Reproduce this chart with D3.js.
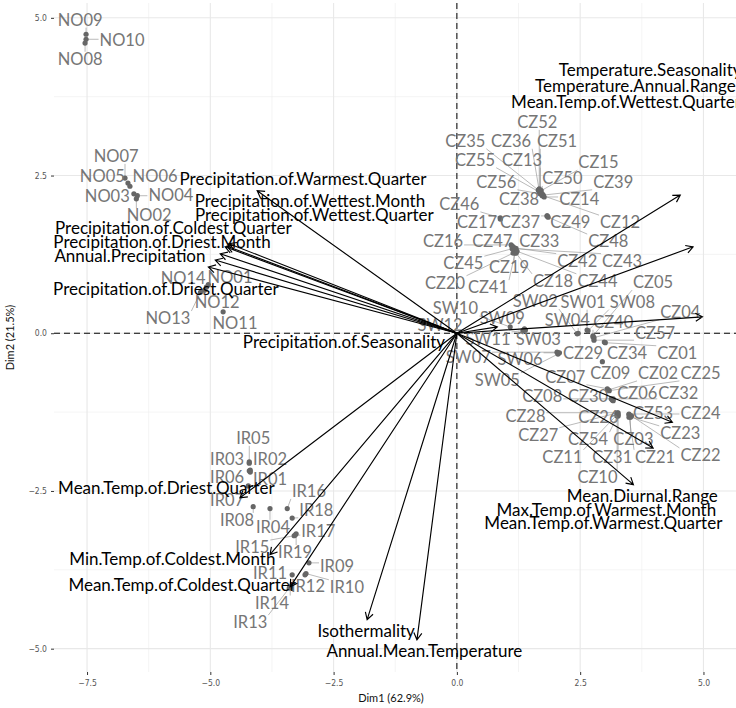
<!DOCTYPE html>
<html>
<head>
<meta charset="utf-8">
<script src="https://cdn.jsdelivr.net/npm/d3@7"></script>
<style>
body { margin: 0; background: #fff; }
svg { display: block; font-family: Lato, "Noto Sans", sans-serif; }
</style>
</head>
<body>
<svg id="chart" width="736" height="708"></svg>
<script>
// PCA biplot: individuals (sites) and bioclim variables
const indNames = [
    "NO01","NO02","NO03","NO04","NO05","NO06","NO07","NO08","NO09","NO10","NO11","NO12","NO13","NO14",
    "SW01","SW02","SW03","SW04","SW05","SW06","SW07","SW08","SW09","SW10","SW11","SW12",
    "CZ01","CZ02","CZ03","CZ04","CZ05","CZ06","CZ07","CZ08","CZ09","CZ10",
    "CZ11","CZ12","CZ13","CZ14","CZ15","CZ16","CZ17","CZ18","CZ19","CZ20",
    "CZ21","CZ22","CZ23","CZ24","CZ25","CZ26","CZ27","CZ28","CZ29","CZ30",
    "CZ31","CZ32","CZ33","CZ34","CZ35","CZ36","CZ37","CZ38","CZ39","CZ40",
    "CZ41","CZ42","CZ43","CZ44","CZ45","CZ46","CZ47","CZ48","CZ49","CZ50",
    "CZ51","CZ52","CZ53","CZ54","CZ55","CZ56","CZ57",
    "IR01","IR02","IR03","IR04","IR05","IR06","IR07","IR08","IR09","IR10",
    "IR11","IR12","IR13","IR14","IR15","IR16","IR17","IR18","IR19"
];
const indDim1 = [
    -5.04,-6.50,-6.55,-6.48,-6.67,-6.63,-6.73,-7.54,-7.52,-7.52,-4.74,-5.12,-5.20,-5.08,
    2.64,2.44,1.39,2.46,2.05,2.05,2.03,2.66,1.37,1.08,1.34,-0.68,
    3.01,3.07,3.52,2.78,2.76,3.17,3.05,3.13,2.95,3.25,
    3.25,1.75,1.69,1.77,1.71,1.10,0.88,1.20,1.16,1.14,
    3.49,3.54,3.52,3.49,3.09,3.25,3.27,3.25,2.08,3.15,
    3.27,3.17,1.14,2.99,1.65,1.67,1.83,1.73,1.75,2.76,
    1.18,1.18,1.20,1.22,1.12,0.88,1.12,1.85,1.83,1.73,
    1.69,1.67,3.49,3.27,1.67,1.69,2.78,
    -4.19,-4.19,-4.21,-3.79,-4.21,-4.21,-4.23,-4.13,-3.00,-3.06,
    -3.34,-3.08,-3.40,-3.38,-3.30,-3.44,-3.28,-3.34,-3.26
];
const indDim2 = [
    0.77,2.13,2.21,2.18,2.38,2.33,2.46,4.60,4.74,4.66,0.34,0.68,0.65,0.73,
    0.05,-0.01,0.05,0.00,-0.33,-0.31,-0.30,0.04,0.07,0.10,0.04,0.16,
    -0.15,-0.90,-1.31,-0.07,-0.04,-1.07,-0.88,-1.04,-0.45,-1.31,
    -1.29,2.18,2.22,2.16,2.26,1.40,1.81,1.27,1.32,1.27,
    -1.33,-1.31,-1.33,-1.28,-0.91,-1.28,-1.26,-1.26,-0.31,-1.06,
    -1.31,-1.04,1.37,-0.14,2.27,2.26,1.86,2.18,2.19,-0.06,
    1.27,1.35,1.34,1.30,1.34,1.83,1.38,1.84,1.86,2.21,
    2.27,2.29,-1.29,-1.29,2.24,2.21,-0.11,
    -2.20,-2.17,-2.06,-2.78,-2.04,-2.18,-2.42,-2.75,-3.64,-3.81,
    -3.83,-3.83,-4.04,-4.02,-3.21,-2.78,-3.20,-2.93,-3.18
];

const varNames = [
    "Temperature.Seasonality","Temperature.Annual.Range","Mean.Temp.of.Wettest.Quarter",
    "Precipitation.of.Seasonality","Precipitation.of.Warmest.Quarter","Precipitation.of.Wettest.Month",
    "Precipitation.of.Wettest.Quarter","Precipitation.of.Coldest.Quarter","Precipitation.of.Driest.Month",
    "Annual.Precipitation","Precipitation.of.Driest.Quarter","Mean.Temp.of.Driest.Quarter",
    "Min.Temp.of.Coldest.Month","Mean.Temp.of.Coldest.Quarter","Isothermality",
    "Annual.Mean.Temperature","Mean.Diurnal.Range","Max.Temp.of.Warmest.Month",
    "Mean.Temp.of.Warmest.Quarter"
];
const varDim1 = [4.53,4.79,4.98,0.82,-4.05,-4.66,-4.70,-4.62,-4.80,-4.90,-5.04,-4.40,-3.79,-3.38,-1.82,-0.81,3.58,3.98,4.37];
const varDim2 = [2.19,1.37,0.26,0.10,2.26,1.38,1.37,1.42,1.26,1.16,1.05,-2.61,-3.51,-4.02,-4.54,-4.86,-2.40,-1.82,-1.41];

const xTicks = [-7.5, -5, -2.5, 0, 2.5, 5];
const yTicks = [-5, -2.5, 0, 2.5, 5];
const xTitle = "Dim1 (62.9%)";
const yTitle = "Dim2 (21.5%)";

// where the repelled labels ended up (data units)
const indLabelX = [
    -4.60,-6.24,-7.09,-5.80,-7.19,-6.12,-6.91,-7.64,-7.64,-6.79,-4.50,-4.86,-5.86,-5.55,
    2.56,1.59,1.65,2.24,0.82,1.28,0.23,3.56,0.92,-0.03,0.63,-0.34,
    4.47,4.08,3.58,4.53,3.98,3.66,2.20,1.73,3.11,2.85,
    2.14,3.31,1.32,2.48,2.87,-0.28,0.41,1.95,1.06,-0.24,
    4.02,4.94,4.53,4.94,4.94,2.87,1.65,1.39,2.56,2.66,
    3.15,4.49,1.67,3.45,0.17,1.10,1.28,1.26,3.17,3.17,
    0.63,2.44,3.35,2.85,0.13,0.05,0.72,3.07,2.30,2.14,
    2.03,1.63,3.98,2.66,0.37,0.80,4.02,
    -3.79,-3.79,-4.66,-3.73,-4.13,-4.66,-4.66,-4.46,-2.43,-2.23,
    -3.79,-3.02,-4.19,-3.75,-4.15,-3.00,-2.81,-2.85,-3.28
];
const indLabelY = [
    0.89,1.87,2.18,2.19,2.49,2.49,2.81,4.35,4.97,4.65,0.16,0.50,0.24,0.88,
    0.50,0.51,-0.09,0.21,-0.74,-0.41,-0.38,0.50,0.24,0.40,-0.09,0.13,
    -0.31,-0.63,-1.68,0.34,0.81,-0.95,-0.69,-0.99,-0.63,-2.28,
    -1.96,1.76,2.75,2.13,2.71,1.46,1.76,0.83,1.05,0.80,
    -1.96,-1.93,-1.58,-1.26,-0.63,-1.33,-1.61,-1.31,-0.31,-0.99,
    -1.96,-0.95,1.46,-0.31,3.05,3.05,1.76,2.13,2.40,0.18,
    0.73,1.15,1.15,0.83,1.11,2.05,1.46,1.46,1.76,2.46,
    3.05,3.35,-1.26,-1.68,2.75,2.40,0.00,
    -2.31,-1.99,-1.99,-3.07,-1.66,-2.28,-2.64,-2.96,-3.69,-4.02,
    -3.80,-4.00,-4.58,-4.27,-3.39,-2.50,-3.13,-2.80,-3.47
];
const varLabelX = [3.92,3.62,3.43,-2.29,-3.12,-2.98,-2.89,-5.75,-5.98,-6.63,-5.90,-5.89,-5.77,-5.57,-1.84,-0.66,3.76,3.03,2.97];
const varLabelY = [4.17,3.92,3.67,-0.14,2.45,2.10,1.87,1.67,1.45,1.23,0.70,-2.45,-3.58,-3.99,-4.72,-5.03,-2.58,-2.80,-3.01];

const width = 736, height = 708;
const panel = { left: 54, right: 736, top: 3, bottom: 672 };

const svg = d3.select("#chart");

const x = d3.scaleLinear().domain([-8.17, 5.66]).range([panel.left, panel.right]);
const y = d3.scaleLinear().domain([-5.37, 5.235]).range([panel.bottom, panel.top]);

svg.append("defs").append("clipPath")
    .attr("id", "panel-clip")
    .append("rect")
    .attr("x", panel.left)
    .attr("y", panel.top)
    .attr("width", panel.right - panel.left)
    .attr("height", panel.bottom - panel.top);

// grid
const xMinor = d3.pairs(xTicks).map(([a, b]) => (a + b) / 2);
const yMinor = d3.pairs(yTicks).map(([a, b]) => (a + b) / 2);
const grid = svg.append("g").attr("class", "grid");

grid.selectAll(".vminor")
    .data(xMinor)
    .join("line")
    .attr("x1", d => x(d)).attr("x2", d => x(d))
    .attr("y1", panel.top).attr("y2", panel.bottom)
    .attr("stroke", "#ededed").attr("stroke-width", 0.6);
grid.selectAll(".hminor")
    .data(yMinor)
    .join("line")
    .attr("y1", d => y(d)).attr("y2", d => y(d))
    .attr("x1", panel.left).attr("x2", panel.right)
    .attr("stroke", "#ededed").attr("stroke-width", 0.6);
grid.selectAll(".vmajor")
    .data(xTicks)
    .join("line")
    .attr("x1", d => x(d)).attr("x2", d => x(d))
    .attr("y1", panel.top).attr("y2", panel.bottom)
    .attr("stroke", "#e8e8e8").attr("stroke-width", 1.1);
grid.selectAll(".hmajor")
    .data(yTicks)
    .join("line")
    .attr("y1", d => y(d)).attr("y2", d => y(d))
    .attr("x1", panel.left).attr("x2", panel.right)
    .attr("stroke", "#e8e8e8").attr("stroke-width", 1.1);

// axes
const fmt = d3.format(".1f");
const xAxis = svg.append("g")
    .attr("transform", `translate(0,${panel.bottom})`)
    .call(d3.axisBottom(x).tickValues(xTicks).tickSize(3).tickPadding(5).tickFormat(fmt));
const yAxis = svg.append("g")
    .attr("transform", `translate(${panel.left},0)`)
    .call(d3.axisLeft(y).tickValues(yTicks).tickSize(3).tickPadding(4).tickFormat(fmt));

[xAxis, yAxis].forEach(a => {
    a.select(".domain").remove();
    a.selectAll(".tick line").attr("stroke", "#333").attr("stroke-width", 1);
    a.selectAll(".tick text")
        .attr("fill", "#555")
        .style("font-family", "'DejaVu Sans Condensed', 'Liberation Sans Narrow', sans-serif")
        .style("font-stretch", "condensed")
        .style("font-size", "8.5px");
});

svg.append("text")
    .attr("x", 391)
    .attr("y", 702)
    .attr("text-anchor", "middle")
    .style("font-size", "11px")
    .attr("fill", "#111")
    .text(xTitle);

svg.append("text")
    .attr("transform", `translate(14,${(panel.top + panel.bottom) / 2}) rotate(-90)`)
    .attr("text-anchor", "middle")
    .style("font-size", "11px")
    .attr("fill", "#111")
    .text(yTitle);

const plot = svg.append("g").attr("clip-path", "url(#panel-clip)");

// reference lines through the origin
plot.append("line")
    .attr("x1", x(0)).attr("x2", x(0))
    .attr("y1", panel.top).attr("y2", panel.bottom)
    .attr("stroke", "#000").attr("stroke-width", 1)
    .attr("stroke-dasharray", "6,4");
plot.append("line")
    .attr("x1", panel.left).attr("x2", panel.right)
    .attr("y1", y(0)).attr("y2", y(0))
    .attr("stroke", "#000").attr("stroke-width", 1)
    .attr("stroke-dasharray", "6,4");

const individuals = indNames.map((name, i) => ({
    name,
    px: x(indDim1[i]), py: y(indDim2[i]),
    lx: x(indLabelX[i]), ly: y(indLabelY[i])
}));

const segG = plot.append("g");
const ptG = plot.append("g");
const indLabG = plot.append("g");

ptG.selectAll("circle")
    .data(individuals)
    .join("circle")
    .attr("cx", d => d.px)
    .attr("cy", d => d.py)
    .attr("r", 2.6)
    .attr("fill", "#666");

const indText = indLabG.selectAll("text")
    .data(individuals)
    .join("text")
    .attr("x", d => d.lx)
    .attr("y", d => d.ly)
    .attr("dy", "0.36em")
    .attr("text-anchor", "middle")
    .attr("fill", "#767676")
    .style("font-size", "16.5px")
    .text(d => d.name);

// segment from each point to the nearest edge of its label box
indText.each(function (d) {
    const b = this.getBBox();
    const pad = 1;
    const nx = Math.max(b.x - pad, Math.min(d.px, b.x + b.width + pad));
    const ny = Math.max(b.y + 3, Math.min(d.py, b.y + b.height - 2));
    const dist = Math.hypot(nx - d.px, ny - d.py);
    if (dist > 5) {
        segG.append("line")
            .attr("x1", d.px).attr("y1", d.py)
            .attr("x2", nx).attr("y2", ny)
            .attr("stroke", "#8c8c8c")
            .attr("stroke-width", 0.6);
    }
});

// variable arrows
const variables = varNames.map((name, i) => ({
    name,
    ex: x(varDim1[i]), ey: y(varDim2[i]),
    lx: x(varLabelX[i]), ly: y(varLabelY[i])
}));

const ox = x(0), oy = y(0);
const headLen = 8;
const arrowG = plot.append("g");

arrowG.selectAll("path")
    .data(variables)
    .join("path")
    .attr("d", d => {
        const a = Math.atan2(d.ey - oy, d.ex - ox);
        const h1 = [d.ex - headLen * Math.cos(a - Math.PI / 6), d.ey - headLen * Math.sin(a - Math.PI / 6)];
        const h2 = [d.ex - headLen * Math.cos(a + Math.PI / 6), d.ey - headLen * Math.sin(a + Math.PI / 6)];
        return `M${ox},${oy}L${d.ex},${d.ey}M${h1[0]},${h1[1]}L${d.ex},${d.ey}L${h2[0]},${h2[1]}`;
    })
    .attr("fill", "none")
    .attr("stroke", "#000")
    .attr("stroke-width", 1.15);

plot.append("g")
    .selectAll("text")
    .data(variables)
    .join("text")
    .attr("x", d => d.lx)
    .attr("y", d => d.ly)
    .attr("dy", "0.36em")
    .attr("text-anchor", "middle")
    .attr("fill", "#000")
    .style("font-size", "17px")
    .text(d => d.name);
</script>
</body>
</html>
